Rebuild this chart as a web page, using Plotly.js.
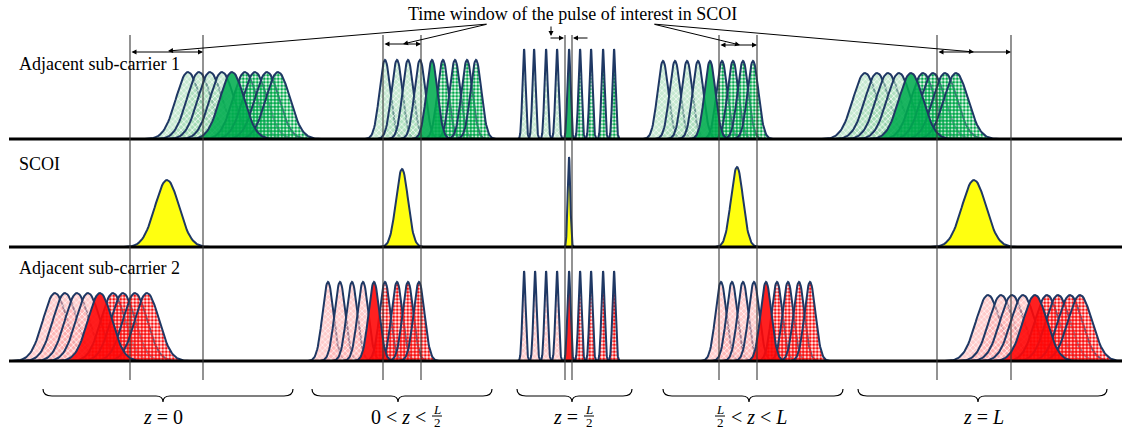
<!DOCTYPE html>
<html>
<head>
<meta charset="utf-8">
<script src="https://cdn.plot.ly/plotly-3.0.1.min.js"></script>
<style>html,body{margin:0;padding:0;background:#fff;}#chart{width:1122px;height:430px;}</style>
</head>
<body>
<div id="chart"></div>
<script>
// ---------------- data (in picture units) ----------------
const rowLabels = ['Adjacent sub-carrier 1', 'SCOI', 'Adjacent sub-carrier 2'];
const rowBaselines = [139, 247, 361];

// Adjacent sub-carrier 1 (green): pulse centres per propagation stage
const sc1Centers = [
  [188, 199, 210, 222, 232, 245, 255, 267, 278],
  [385, 397, 408, 420, 432, 443, 455, 467, 476],
  [524, 534, 546, 557, 569, 580, 591, 603, 614],
  [663, 675, 687, 698, 710, 722, 733, 743, 753],
  [865, 877, 888, 899, 911, 923, 933, 945, 956]
];
const sc1Heights = [67, 79, 90, 78, 66];
const sc1Widths = [12, 5.5, 1.6, 5.5, 12];

// SCOI (yellow)
const scoiCenters = [167, 402, 569, 737, 974];
const scoiHeights = [67, 78, 90, 80, 67];
const scoiWidths = [12, 6, 1.3, 6, 12];

// Adjacent sub-carrier 2 (red)
const sc2Centers = [
  [55, 65, 77, 88, 100, 113, 123, 135, 147],
  [328, 340, 352, 363, 374, 385, 397, 408, 419],
  [524, 535, 546, 557, 569, 580, 591, 603, 614],
  [721, 732, 743, 754, 766, 777, 788, 799, 810],
  [988, 1001, 1012, 1023, 1035, 1047, 1058, 1070, 1080]
];
const sc2Heights = [68, 79, 90, 79, 66];
const sc2Widths = [12, 5.5, 1.6, 5.5, 12];

const solidIndex = 4; // pulse of interest inside each adjacent group

// time windows of the SCOI pulse
const windowLeft = [130, 383, 565, 719, 937];
const windowRight = [203, 421, 572, 757, 1011];
const windowArrowY = [52, 44, 38, 45, 52];

// stage braces and labels
const braceLeft = [43, 312, 517, 663, 858];
const braceRight = [293, 492, 632, 843, 1107];
const braceTip = [163, 398, 572, 749, 978];

const titleText = 'Time window of the pulse of interest in SCOI';

// ---------------- styles ----------------
const NAVY = '#1f3864';
const SERIF = 'Liberation Serif, Times New Roman, serif';

function pulse(c, s, h, base) {
  const xs = [], ys = [];
  const n = 70, span = 3.6 * s;
  for (let i = 0; i <= n; i++) {
    const x = c - span + (2 * span * i) / n;
    xs.push(x);
    ys.push(base - h * Math.exp(-0.5 * Math.pow((x - c) / s, 2)));
  }
  return {x: xs, y: ys};
}

const traces = [];
function addPulse(c, s, h, base, style) {
  const p = pulse(c, s, h, base);
  const t = {
    type: 'scatter', mode: 'lines', x: p.x, y: p.y, fill: 'toself',
    line: {color: NAVY, width: 2}, hoverinfo: 'skip', fillcolor: style.fill
  };
  if (style.pattern) t.fillpattern = style.pattern;
  traces.push(t);
}

const greenLight = {fill: 'rgba(190,232,203,0.6)', pattern: {shape: 'x', fgcolor: 'rgba(255,255,255,0.95)', bgcolor: 'rgba(160,218,178,0.6)', size: 4, solidity: 0.3}};
const greenSolid = {fill: 'rgba(0,172,78,0.88)'};
const greenDark = {fill: 'rgba(0,176,80,0.5)', pattern: {shape: '.', fgcolor: 'rgba(0,168,74,1)', bgcolor: 'rgba(255,255,255,0.25)', size: 3.5, solidity: 0.6}};
const redLight = {fill: 'rgba(255,200,200,0.6)', pattern: {shape: 'x', fgcolor: 'rgba(255,255,255,0.95)', bgcolor: 'rgba(255,170,170,0.6)', size: 4, solidity: 0.3}};
const redSolid = {fill: 'rgba(255,8,8,0.9)'};
const redDark = {fill: 'rgba(255,20,20,0.5)', pattern: {shape: '.', fgcolor: 'rgba(250,15,15,1)', bgcolor: 'rgba(255,255,255,0.25)', size: 3.5, solidity: 0.6}};

// order: lighter (earlier) pulses, checkered (later) pulses, then the pulse of interest on top
function addGroupRow(centers, heights, widths, base, light, solid, dark) {
  centers.forEach((grp, g) => {
    grp.forEach((c, i) => { if (i < solidIndex) addPulse(c, widths[g], heights[g], base, light); });
    grp.forEach((c, i) => { if (i > solidIndex) addPulse(c, widths[g], heights[g], base, dark); });
    addPulse(grp[solidIndex], widths[g], heights[g], base, solid);
  });
}
addGroupRow(sc1Centers, sc1Heights, sc1Widths, rowBaselines[0], greenLight, greenSolid, greenDark);
scoiCenters.forEach((c, g) => addPulse(c, scoiWidths[g], scoiHeights[g], rowBaselines[1], {fill: '#ffff10'}));
addGroupRow(sc2Centers, sc2Heights, sc2Widths, rowBaselines[2], redLight, redSolid, redDark);

// baselines
rowBaselines.forEach(b => traces.push({type: 'scatter', mode: 'lines', x: [9, 1122], y: [b, b], line: {color: '#000', width: 3}, hoverinfo: 'skip'}));
// window verticals
windowLeft.concat(windowRight).forEach(x => traces.push({type: 'scatter', mode: 'lines', x: [x, x], y: [35, 380], line: {color: '#3a3a3a', width: 1.1}, hoverinfo: 'skip'}));

// ---------------- annotations ----------------
const ann = [];
const arrowBase = {xref: 'x', yref: 'y', axref: 'x', ayref: 'y', text: '', showarrow: true, arrowhead: 2, arrowsize: 1, arrowwidth: 1, arrowcolor: '#000', standoff: 0, startstandoff: 0};
[0, 1, 3, 4].forEach(g => {
  ann.push(Object.assign({}, arrowBase, {x: windowRight[g], y: windowArrowY[g], ax: windowLeft[g], ay: windowArrowY[g], arrowside: 'end+start'}));
});
// narrow window (z = L/2)
ann.push(Object.assign({}, arrowBase, {x: windowLeft[2] - 1, y: windowArrowY[2], ax: 549, ay: windowArrowY[2]}));
ann.push(Object.assign({}, arrowBase, {x: windowRight[2] + 1, y: windowArrowY[2], ax: 589, ay: windowArrowY[2]}));
ann.push(Object.assign({}, arrowBase, {x: 551, y: 36, ax: 551, ay: 25}));
// pointer lines from the title
ann.push(Object.assign({}, arrowBase, {x: 168, y: 51, ax: 488, ay: 24}));
ann.push(Object.assign({}, arrowBase, {x: 403, y: 44, ax: 488, ay: 24}));
ann.push(Object.assign({}, arrowBase, {x: 740, y: 45, ax: 653, ay: 24}));
ann.push(Object.assign({}, arrowBase, {x: 974, y: 52, ax: 653, ay: 24}));

// title
ann.push({xref: 'x', yref: 'y', x: 572, y: 14, text: titleText, showarrow: false, font: {family: SERIF, size: 18, color: '#000'}, xanchor: 'center', yanchor: 'middle'});
// row labels
const rowLabelY = [64, 164, 268];
rowLabels.forEach((t, i) => ann.push({xref: 'x', yref: 'y', x: 17, y: rowLabelY[i], text: t, showarrow: false, font: {family: SERIF, size: 18, color: '#000'}, xanchor: 'left', yanchor: 'middle'}));

// stage labels
const lblFont = {family: SERIF, size: 20, color: '#000'};
const fracFont = {family: SERIF, size: 13, color: '#000'};
const LY = 417;
function txt(x, t, anchor) { ann.push({xref: 'x', yref: 'y', x: x, y: LY, text: t, showarrow: false, font: lblFont, xanchor: anchor, yanchor: 'middle'}); }
const shapes = [];
function frac(x) {
  ann.push({xref: 'x', yref: 'y', x: x, y: 409, text: '<i>L</i>', showarrow: false, font: fracFont, xanchor: 'center', yanchor: 'middle'});
  ann.push({xref: 'x', yref: 'y', x: x, y: 422, text: '2', showarrow: false, font: fracFont, xanchor: 'center', yanchor: 'middle'});
  shapes.push({type: 'line', xref: 'x', yref: 'y', x0: x - 5, x1: x + 5, y0: 416, y1: 416, line: {color: '#000', width: 1}});
}
txt(braceTip[0], '<i>z</i> = 0', 'center');
txt(428, '0 &lt; <i>z</i> &lt;', 'right'); frac(437);
txt(580, '<i>z</i> =', 'right'); frac(589);
frac(720); txt(729, '&lt; <i>z</i> &lt; <i>L</i>', 'left');
txt(983, '<i>z</i> = <i>L</i>', 'center');

// braces
braceLeft.forEach((l, i) => {
  const r = braceRight[i], m = braceTip[i];
  const top = 389, mid = 396, tip = 402;
  shapes.push({type: 'path', xref: 'x', yref: 'y', line: {color: '#000', width: 1.2},
    path: `M ${l},${top} Q ${l},${mid} ${l + 9},${mid} L ${m - 7},${mid} Q ${m},${mid} ${m},${tip} Q ${m},${mid} ${m + 7},${mid} L ${r - 9},${mid} Q ${r},${mid} ${r},${top}`});
});

const layout = {
  width: 1122, height: 430, margin: {l: 0, r: 0, t: 0, b: 0},
  paper_bgcolor: '#fff', plot_bgcolor: '#fff', showlegend: false, hovermode: false,
  xaxis: {range: [0, 1122], visible: false, fixedrange: true},
  yaxis: {range: [430, 0], visible: false, fixedrange: true},
  annotations: ann, shapes: shapes
};
Plotly.newPlot('chart', traces, layout, {staticPlot: true, displayModeBar: false});
</script>
</body>
</html>
